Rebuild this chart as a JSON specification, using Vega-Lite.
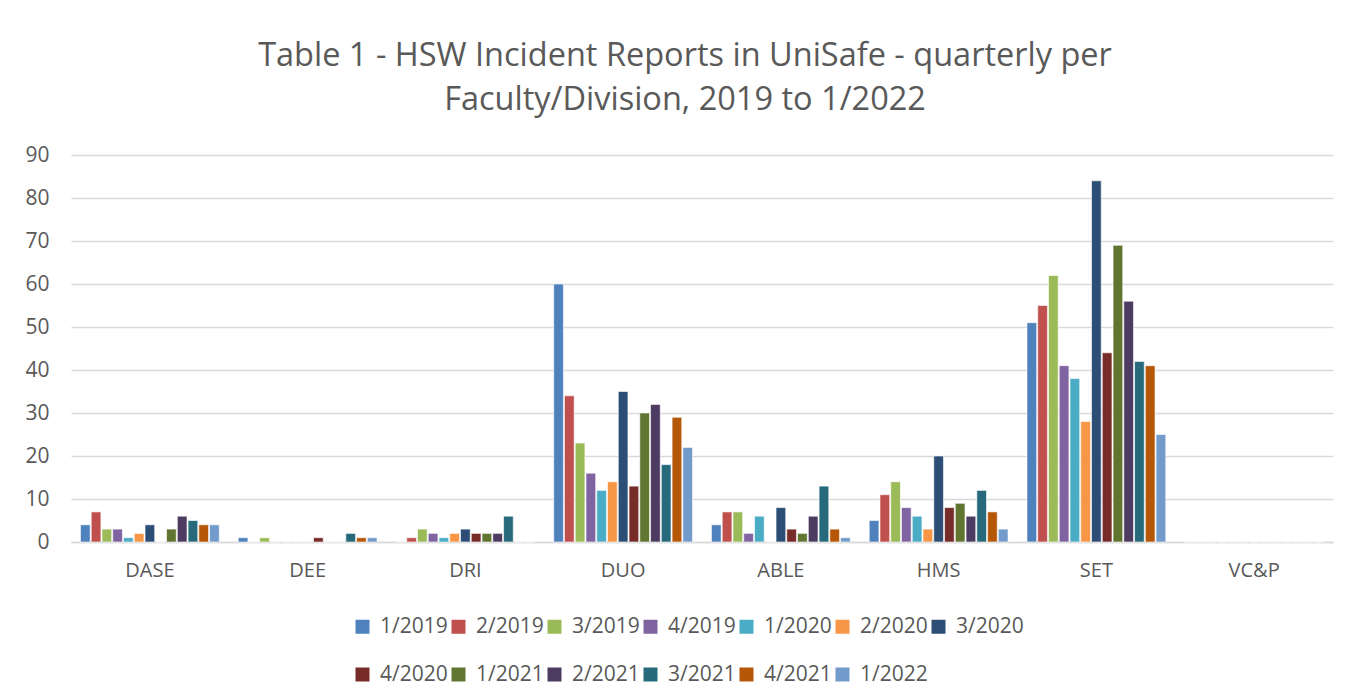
{
  "$schema": "https://vega.github.io/schema/vega-lite/v6.json",
  "width": 1262,
  "height": 387,
  "autosize": {"type": "none"},
  "padding": {"left": 71, "top": 155, "right": 34, "bottom": 156},
  "background": "white",
  "title": {
    "text": ["Table 1 - HSW Incident Reports in UniSafe - quarterly per", "Faculty/Division, 2019 to 1/2022"],
    "font": "Open Sans",
    "fontSize": 32.5,
    "fontWeight": "normal",
    "color": "#595959",
    "lineHeight": 44,
    "anchor": "middle",
    "dx": -17,
    "offset": 28
  },
  "data": {
    "values": [
      {"unit": "DASE", "quarter": "1/2019", "count": 4},
      {"unit": "DASE", "quarter": "2/2019", "count": 7},
      {"unit": "DASE", "quarter": "3/2019", "count": 3},
      {"unit": "DASE", "quarter": "4/2019", "count": 3},
      {"unit": "DASE", "quarter": "1/2020", "count": 1},
      {"unit": "DASE", "quarter": "2/2020", "count": 2},
      {"unit": "DASE", "quarter": "3/2020", "count": 4},
      {"unit": "DASE", "quarter": "4/2020", "count": 0},
      {"unit": "DASE", "quarter": "1/2021", "count": 3},
      {"unit": "DASE", "quarter": "2/2021", "count": 6},
      {"unit": "DASE", "quarter": "3/2021", "count": 5},
      {"unit": "DASE", "quarter": "4/2021", "count": 4},
      {"unit": "DASE", "quarter": "1/2022", "count": 4},
      {"unit": "DEE", "quarter": "1/2019", "count": 1},
      {"unit": "DEE", "quarter": "2/2019", "count": 0},
      {"unit": "DEE", "quarter": "3/2019", "count": 1},
      {"unit": "DEE", "quarter": "4/2019", "count": 0},
      {"unit": "DEE", "quarter": "1/2020", "count": 0},
      {"unit": "DEE", "quarter": "2/2020", "count": 0},
      {"unit": "DEE", "quarter": "3/2020", "count": 0},
      {"unit": "DEE", "quarter": "4/2020", "count": 1},
      {"unit": "DEE", "quarter": "1/2021", "count": 0},
      {"unit": "DEE", "quarter": "2/2021", "count": 0},
      {"unit": "DEE", "quarter": "3/2021", "count": 2},
      {"unit": "DEE", "quarter": "4/2021", "count": 1},
      {"unit": "DEE", "quarter": "1/2022", "count": 1},
      {"unit": "DRI", "quarter": "1/2019", "count": 0},
      {"unit": "DRI", "quarter": "2/2019", "count": 1},
      {"unit": "DRI", "quarter": "3/2019", "count": 3},
      {"unit": "DRI", "quarter": "4/2019", "count": 2},
      {"unit": "DRI", "quarter": "1/2020", "count": 1},
      {"unit": "DRI", "quarter": "2/2020", "count": 2},
      {"unit": "DRI", "quarter": "3/2020", "count": 3},
      {"unit": "DRI", "quarter": "4/2020", "count": 2},
      {"unit": "DRI", "quarter": "1/2021", "count": 2},
      {"unit": "DRI", "quarter": "2/2021", "count": 2},
      {"unit": "DRI", "quarter": "3/2021", "count": 6},
      {"unit": "DRI", "quarter": "4/2021", "count": 0},
      {"unit": "DRI", "quarter": "1/2022", "count": 0},
      {"unit": "DUO", "quarter": "1/2019", "count": 60},
      {"unit": "DUO", "quarter": "2/2019", "count": 34},
      {"unit": "DUO", "quarter": "3/2019", "count": 23},
      {"unit": "DUO", "quarter": "4/2019", "count": 16},
      {"unit": "DUO", "quarter": "1/2020", "count": 12},
      {"unit": "DUO", "quarter": "2/2020", "count": 14},
      {"unit": "DUO", "quarter": "3/2020", "count": 35},
      {"unit": "DUO", "quarter": "4/2020", "count": 13},
      {"unit": "DUO", "quarter": "1/2021", "count": 30},
      {"unit": "DUO", "quarter": "2/2021", "count": 32},
      {"unit": "DUO", "quarter": "3/2021", "count": 18},
      {"unit": "DUO", "quarter": "4/2021", "count": 29},
      {"unit": "DUO", "quarter": "1/2022", "count": 22},
      {"unit": "ABLE", "quarter": "1/2019", "count": 4},
      {"unit": "ABLE", "quarter": "2/2019", "count": 7},
      {"unit": "ABLE", "quarter": "3/2019", "count": 7},
      {"unit": "ABLE", "quarter": "4/2019", "count": 2},
      {"unit": "ABLE", "quarter": "1/2020", "count": 6},
      {"unit": "ABLE", "quarter": "2/2020", "count": 0},
      {"unit": "ABLE", "quarter": "3/2020", "count": 8},
      {"unit": "ABLE", "quarter": "4/2020", "count": 3},
      {"unit": "ABLE", "quarter": "1/2021", "count": 2},
      {"unit": "ABLE", "quarter": "2/2021", "count": 6},
      {"unit": "ABLE", "quarter": "3/2021", "count": 13},
      {"unit": "ABLE", "quarter": "4/2021", "count": 3},
      {"unit": "ABLE", "quarter": "1/2022", "count": 1},
      {"unit": "HMS", "quarter": "1/2019", "count": 5},
      {"unit": "HMS", "quarter": "2/2019", "count": 11},
      {"unit": "HMS", "quarter": "3/2019", "count": 14},
      {"unit": "HMS", "quarter": "4/2019", "count": 8},
      {"unit": "HMS", "quarter": "1/2020", "count": 6},
      {"unit": "HMS", "quarter": "2/2020", "count": 3},
      {"unit": "HMS", "quarter": "3/2020", "count": 20},
      {"unit": "HMS", "quarter": "4/2020", "count": 8},
      {"unit": "HMS", "quarter": "1/2021", "count": 9},
      {"unit": "HMS", "quarter": "2/2021", "count": 6},
      {"unit": "HMS", "quarter": "3/2021", "count": 12},
      {"unit": "HMS", "quarter": "4/2021", "count": 7},
      {"unit": "HMS", "quarter": "1/2022", "count": 3},
      {"unit": "SET", "quarter": "1/2019", "count": 51},
      {"unit": "SET", "quarter": "2/2019", "count": 55},
      {"unit": "SET", "quarter": "3/2019", "count": 62},
      {"unit": "SET", "quarter": "4/2019", "count": 41},
      {"unit": "SET", "quarter": "1/2020", "count": 38},
      {"unit": "SET", "quarter": "2/2020", "count": 28},
      {"unit": "SET", "quarter": "3/2020", "count": 84},
      {"unit": "SET", "quarter": "4/2020", "count": 44},
      {"unit": "SET", "quarter": "1/2021", "count": 69},
      {"unit": "SET", "quarter": "2/2021", "count": 56},
      {"unit": "SET", "quarter": "3/2021", "count": 42},
      {"unit": "SET", "quarter": "4/2021", "count": 41},
      {"unit": "SET", "quarter": "1/2022", "count": 25},
      {"unit": "VC&P", "quarter": "1/2019", "count": 0},
      {"unit": "VC&P", "quarter": "2/2019", "count": 0},
      {"unit": "VC&P", "quarter": "3/2019", "count": 0},
      {"unit": "VC&P", "quarter": "4/2019", "count": 0},
      {"unit": "VC&P", "quarter": "1/2020", "count": 0},
      {"unit": "VC&P", "quarter": "2/2020", "count": 0},
      {"unit": "VC&P", "quarter": "3/2020", "count": 0},
      {"unit": "VC&P", "quarter": "4/2020", "count": 0},
      {"unit": "VC&P", "quarter": "1/2021", "count": 0},
      {"unit": "VC&P", "quarter": "2/2021", "count": 0},
      {"unit": "VC&P", "quarter": "3/2021", "count": 0},
      {"unit": "VC&P", "quarter": "4/2021", "count": 0},
      {"unit": "VC&P", "quarter": "1/2022", "count": 0}
    ]
  },
  "mark": {"type": "bar", "stroke": "white", "strokeWidth": 1, "strokeOpacity": 0.6},
  "encoding": {
    "x": {
      "field": "unit",
      "type": "nominal",
      "sort": ["DASE", "DEE", "DRI", "DUO", "ABLE", "HMS", "SET", "VC&P"],
      "scale": {"paddingInner": 0.12, "paddingOuter": 0.06},
      "axis": {
        "title": null,
        "labelAngle": 0,
        "ticks": false,
        "domainColor": "#D9D9D9",
        "domainWidth": 1.5,
        "labelPadding": 18,
        "labelFont": "Open Sans",
        "labelFontSize": 20,
        "labelColor": "#595959"
      }
    },
    "xOffset": {
      "field": "quarter",
      "type": "nominal",
      "sort": ["1/2019", "2/2019", "3/2019", "4/2019", "1/2020", "2/2020", "3/2020", "4/2020", "1/2021", "2/2021", "3/2021", "4/2021", "1/2022"],
      "scale": {"paddingInner": 0.1}
    },
    "y": {
      "field": "count",
      "type": "quantitative",
      "scale": {"domain": [0, 90], "nice": false},
      "axis": {
        "title": null,
        "values": [0, 10, 20, 30, 40, 50, 60, 70, 80, 90],
        "ticks": false,
        "domain": false,
        "gridColor": "#D9D9D9",
        "gridWidth": 1.5,
        "labelPadding": 22,
        "labelFont": "Open Sans",
        "labelFontSize": 21,
        "labelColor": "#595959"
      }
    },
    "color": {
      "field": "quarter",
      "type": "nominal",
      "sort": ["1/2019", "2/2019", "3/2019", "4/2019", "1/2020", "2/2020", "3/2020", "4/2020", "1/2021", "2/2021", "3/2021", "4/2021", "1/2022"],
      "scale": {
        "domain": ["1/2019", "2/2019", "3/2019", "4/2019", "1/2020", "2/2020", "3/2020", "4/2020", "1/2021", "2/2021", "3/2021", "4/2021", "1/2022"],
        "range": ["#4F81BD", "#C0504D", "#9BBB59", "#8064A2", "#4BACC6", "#F79646", "#2C4D75", "#772C2A", "#5F7530", "#4D3B62", "#276A7C", "#B65708", "#729ACA"]
      },
      "legend": {
        "title": null,
        "orient": "none",
        "legendX": 281,
        "legendY": 461,
        "direction": "horizontal",
        "columns": 7,
        "columnPadding": 0,
        "rowPadding": 26,
        "padding": 0,
        "symbolType": "square",
        "symbolSize": 196,
        "symbolStrokeWidth": 0,
        "symbolOpacity": 1,
        "labelOffset": 7,
        "labelFont": "Open Sans",
        "labelFontSize": 21,
        "labelColor": "#595959",
        "labelLimit": 200
      }
    }
  },
  "config": {
    "view": {"stroke": null}
  }
}
